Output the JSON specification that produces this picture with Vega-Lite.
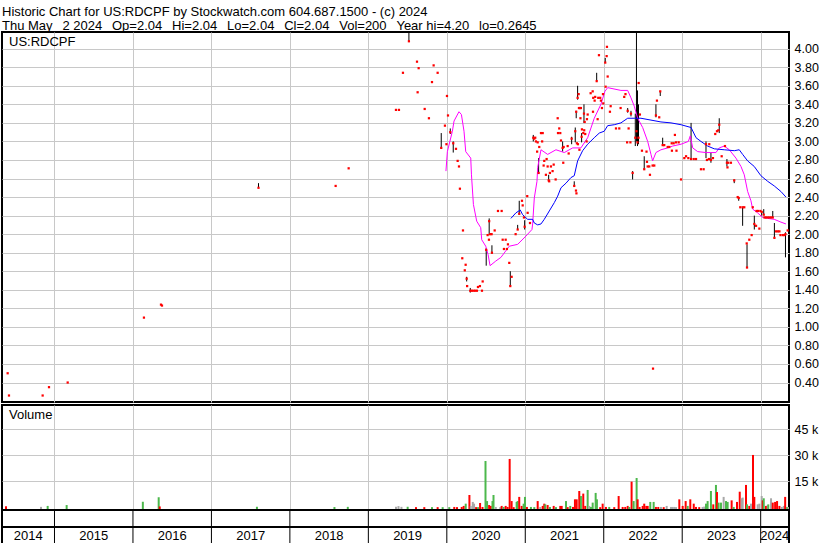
{
"$schema":"https://vega.github.io/schema/vega-lite/v6.json",
"background":"white",
"padding":{"left":1,"top":6,"right":0,"bottom":0},
"spacing":3,
"bounds":"flush",
"title":{"text":["Historic Chart for US:RDCPF by Stockwatch.com 604.687.1500 - (c) 2024","Thu May\u00a0\u00a0\u20092 2024\u00a0\u00a0\u2009Op=2.04\u00a0\u00a0\u2009Hi=2.04\u00a0\u00a0\u2009Lo=2.04\u00a0\u00a0\u2009Cl=2.04\u00a0\u00a0\u2009Vol=200\u00a0\u00a0\u2009Year hi=4.20\u00a0\u00a0\u2009lo=0.2645"],"anchor":"start","font":"Liberation Sans","fontSize":13,"fontWeight":"normal","color":"#000","lineHeight":14,"offset":-2,"dx":1},
"config":{
 "view":{"stroke":"#000","strokeWidth":2},
 "axis":{"labelFont":"Liberation Sans","labelFontSize":12.5,"labelColor":"#000","ticks":false,"domain":false,"gridColor":"#c8c8c8","gridWidth":1,"labelPadding":5},
 "title":{"font":"Liberation Sans","fontSize":13,"fontWeight":"normal","color":"#000","anchor":"start"}
},
"resolve":{"scale":{"color":"independent"}},
"datasets":{
"px":[
{"t":2014.403,"c":0.50},{"t":2014.420,"c":0.26},{"t":2014.849,"c":0.26},{"t":2014.930,"c":0.35},{"t":2015.168,"c":0.40},
{"t":2016.140,"c":1.10},{"t":2016.357,"c":1.24},{"t":2016.370,"c":1.23},
{"t":2017.600,"c":2.50,"h":2.55,"l":2.50},{"t":2018.583,"c":2.52},{"t":2018.749,"c":2.71},
{"t":2019.352,"c":3.34},{"t":2019.390,"c":3.34},{"t":2019.441,"c":3.74},{"t":2019.517,"c":4.08,"h":4.20,"l":4.08},
{"t":2019.620,"c":3.86},{"t":2019.641,"c":3.79},{"t":2019.628,"c":3.53},{"t":2019.718,"c":3.35},{"t":2019.772,"c":3.25},
{"t":2019.811,"c":3.64},{"t":2019.832,"c":3.82},{"t":2019.883,"c":3.74},{"t":2019.929,"c":2.93,"h":3.09,"l":2.93},
{"t":2019.976,"c":3.17},{"t":2020.002,"c":3.49},{"t":2020.015,"c":3.28},{"t":2019.995,"c":2.97},
{"t":2020.044,"c":3.10,"h":3.14,"l":3.08},{"t":2020.082,"c":2.98,"h":3.00,"l":2.88},{"t":2020.117,"c":2.92},
{"t":2020.138,"c":2.79},{"t":2020.155,"c":2.73},{"t":2020.167,"c":2.49},{"t":2020.206,"c":2.04},{"t":2020.197,"c":1.74},
{"t":2020.240,"c":1.67},{"t":2020.229,"c":1.61},{"t":2020.253,"c":1.52,"h":1.54,"l":1.49},{"t":2020.259,"c":1.44},
{"t":2020.299,"c":1.39,"h":1.42,"l":1.37},{"t":2020.320,"c":1.39},{"t":2020.342,"c":1.39},{"t":2020.362,"c":1.39},
{"t":2020.384,"c":1.39},{"t":2020.397,"c":1.43},{"t":2020.422,"c":1.44},{"t":2020.448,"c":1.39},{"t":2020.457,"c":1.49},
{"t":2020.502,"c":1.83,"h":1.85,"l":1.66},{"t":2020.520,"c":1.99},{"t":2020.537,"c":1.94},{"t":2020.540,"c":2.14,"h":2.17,"l":1.99},
{"t":2020.553,"c":2.00},{"t":2020.571,"c":2.00},{"t":2020.575,"c":1.80,"h":1.88,"l":1.79},{"t":2020.610,"c":2.04},
{"t":2020.652,"c":2.25},{"t":2020.699,"c":2.25},{"t":2020.712,"c":1.94},{"t":2020.728,"c":1.84},{"t":2020.750,"c":1.94},
{"t":2020.766,"c":1.84},{"t":2020.779,"c":1.89},{"t":2020.796,"c":1.69},{"t":2020.809,"c":1.44,"h":1.60,"l":1.44},
{"t":2020.826,"c":1.54},{"t":2020.877,"c":2.00},{"t":2020.903,"c":2.05,"h":2.10,"l":2.05},{"t":2020.923,"c":2.22,"h":2.36,"l":2.21},
{"t":2020.958,"c":2.36},{"t":2020.967,"c":2.31},{"t":2020.983,"c":2.18},{"t":2020.992,"c":2.08,"h":2.15,"l":2.05},
{"t":2021.025,"c":2.41},{"t":2021.030,"c":2.23},{"t":2021.060,"c":2.12},
{"t":2021.102,"c":3.04,"h":3.07,"l":3.00},{"t":2021.114,"c":3.03},{"t":2021.127,"c":3.04},{"t":2021.136,"c":3.00},
{"t":2021.158,"c":2.99},{"t":2021.200,"c":3.09},{"t":2021.222,"c":3.09},{"t":2021.178,"c":2.94},{"t":2021.215,"c":3.00},
{"t":2021.151,"c":2.89},{"t":2021.170,"c":2.66,"h":2.82,"l":2.66},{"t":2021.272,"c":2.81},{"t":2021.242,"c":2.79},
{"t":2021.234,"c":2.74},{"t":2021.285,"c":2.73},{"t":2021.327,"c":2.73},{"t":2021.362,"c":2.75},{"t":2021.263,"c":2.64},
{"t":2021.314,"c":2.66},{"t":2021.305,"c":2.57},{"t":2021.348,"c":2.68},{"t":2021.298,"c":2.58,"h":2.64,"l":2.57},
{"t":2021.387,"c":2.59},{"t":2021.484,"c":2.77},{"t":2021.413,"c":3.25},{"t":2021.433,"c":3.14},{"t":2021.446,"c":3.09},
{"t":2021.417,"c":3.09},{"t":2021.455,"c":3.01},{"t":2021.476,"c":2.93,"h":3.00,"l":2.89},{"t":2021.489,"c":2.94},
{"t":2021.540,"c":2.95},{"t":2021.553,"c":2.87},{"t":2021.591,"c":3.03,"h":3.05,"l":2.97},{"t":2021.624,"c":2.52,"h":2.57,"l":2.52},
{"t":2021.646,"c":2.47},{"t":2021.652,"c":2.44},{"t":2021.637,"c":3.11,"h":3.15,"l":2.99},{"t":2021.658,"c":2.98},
{"t":2021.667,"c":3.47,"h":3.60,"l":3.45},{"t":2021.680,"c":3.51},{"t":2021.684,"c":3.36},{"t":2021.696,"c":3.36},
{"t":2021.709,"c":3.36},{"t":2021.649,"c":3.32,"h":3.33,"l":3.25},{"t":2021.703,"c":3.25},{"t":2021.748,"c":3.30,"h":3.40,"l":3.20},
{"t":2021.757,"c":3.21},{"t":2021.722,"c":3.13},{"t":2021.739,"c":3.09},{"t":2021.751,"c":3.12},{"t":2021.718,"c":3.05,"h":3.09,"l":2.99},
{"t":2021.671,"c":2.97},{"t":2021.690,"c":2.91},{"t":2021.764,"c":3.08},{"t":2021.782,"c":3.00},{"t":2021.786,"c":3.24},
{"t":2021.795,"c":3.29},{"t":2021.833,"c":3.52},{"t":2021.859,"c":3.54},{"t":2021.884,"c":3.44},{"t":2021.891,"c":3.48},
{"t":2021.866,"c":3.47},{"t":2021.930,"c":3.47},{"t":2021.955,"c":3.47},{"t":2021.990,"c":3.51},{"t":2021.964,"c":3.44},
{"t":2021.994,"c":3.41},{"t":2021.977,"c":3.36},{"t":2021.922,"c":3.24},{"t":2021.863,"c":3.32},{"t":2021.910,"c":3.65,"h":3.74,"l":3.65},
{"t":2021.939,"c":3.93},{"t":2022.019,"c":3.85,"h":3.90,"l":3.85},{"t":2022.037,"c":3.92},{"t":2022.041,"c":4.02},
{"t":2022.050,"c":3.70},{"t":2022.024,"c":3.59},{"t":2022.088,"c":3.38},{"t":2022.079,"c":3.32},{"t":2022.156,"c":3.14},
{"t":2022.198,"c":3.14},{"t":2022.215,"c":3.36},{"t":2022.261,"c":3.48},{"t":2022.277,"c":3.51},{"t":2022.305,"c":3.33,"h":3.36,"l":3.31},
{"t":2022.347,"c":3.30,"h":3.33,"l":3.27},{"t":2022.298,"c":2.99},{"t":2022.340,"c":2.99},{"t":2022.317,"c":3.14},
{"t":2022.368,"c":2.66,"h":2.68,"l":2.59},{"t":2022.402,"c":3.04,"h":3.30,"l":2.95},{"t":2022.417,"c":3.11,"h":4.20,"l":3.00},
{"t":2022.430,"c":2.99,"h":3.55,"l":2.95},{"t":2022.443,"c":3.04,"h":3.40,"l":2.97},{"t":2022.445,"c":3.63},{"t":2022.461,"c":3.29},
{"t":2022.487,"c":2.90},{"t":2022.516,"c":2.70,"h":2.84,"l":2.70},{"t":2022.560,"c":2.73},{"t":2022.580,"c":2.73},
{"t":2022.623,"c":2.74},{"t":2022.644,"c":2.74},{"t":2022.589,"c":2.64},{"t":2022.545,"c":2.89},{"t":2022.551,"c":2.78},
{"t":2022.628,"c":0.55},{"t":2022.665,"c":3.28,"h":3.40,"l":3.26},{"t":2022.707,"c":3.26},{"t":2022.678,"c":3.44},
{"t":2022.720,"c":3.54,"h":3.54,"l":3.49},{"t":2022.751,"c":2.96,"h":3.04,"l":2.96},{"t":2022.771,"c":2.96},{"t":2022.815,"c":2.94},
{"t":2022.835,"c":2.94},{"t":2022.866,"c":2.98},{"t":2022.891,"c":2.98},{"t":2022.921,"c":2.99},{"t":2022.955,"c":2.99},
{"t":2022.907,"c":3.07},{"t":2022.869,"c":2.90},{"t":2022.927,"c":2.90},{"t":2022.985,"c":2.59},{"t":2023.027,"c":2.82},
{"t":2023.049,"c":2.84},{"t":2023.078,"c":2.82},{"t":2023.113,"c":2.81,"h":3.20,"l":2.80},{"t":2023.147,"c":2.81},
{"t":2023.176,"c":2.81},{"t":2023.239,"c":2.70},{"t":2023.273,"c":2.70},{"t":2023.303,"c":2.97,"h":3.00,"l":2.82},
{"t":2023.345,"c":2.97},{"t":2023.315,"c":2.80},{"t":2023.341,"c":2.81},{"t":2023.366,"c":2.80,"h":2.88,"l":2.77},
{"t":2023.392,"c":2.82},{"t":2023.421,"c":3.08},{"t":2023.443,"c":3.11},{"t":2023.460,"c":3.12},{"t":2023.472,"c":3.18,"h":3.25,"l":3.09},
{"t":2023.503,"c":2.84},{"t":2023.545,"c":2.95},{"t":2023.570,"c":2.77,"h":2.81,"l":2.73},{"t":2023.587,"c":2.77},
{"t":2023.621,"c":2.77},{"t":2023.577,"c":2.72},{"t":2023.663,"c":2.58,"h":2.59,"l":2.55},{"t":2023.707,"c":2.40},
{"t":2023.720,"c":2.39,"h":2.40,"l":2.36},{"t":2023.740,"c":2.29},{"t":2023.770,"c":2.29,"h":2.29,"l":2.09},{"t":2023.791,"c":2.29},
{"t":2023.822,"c":1.90},{"t":2023.855,"c":1.94},{"t":2023.885,"c":1.99},{"t":2023.826,"c":1.64,"h":1.89,"l":1.64},
{"t":2023.899,"c":2.29},{"t":2023.919,"c":2.11,"h":2.20,"l":2.05},{"t":2023.941,"c":2.09},{"t":2023.983,"c":2.06},
{"t":2023.947,"c":2.25},{"t":2023.966,"c":2.25},{"t":2023.996,"c":2.25},{"t":2024.013,"c":2.24,"h":2.25,"l":2.20},
{"t":2024.039,"c":2.21,"h":2.27,"l":2.21},{"t":2024.049,"c":2.18},{"t":2024.068,"c":2.18},{"t":2024.090,"c":2.18},
{"t":2024.111,"c":2.18},{"t":2024.132,"c":2.18},{"t":2024.154,"c":2.18,"h":2.25,"l":2.18},{"t":2024.175,"c":1.96,"h":2.12,"l":1.96},
{"t":2024.196,"c":2.03},{"t":2024.218,"c":2.03},{"t":2024.239,"c":2.03},{"t":2024.252,"c":1.99},{"t":2024.282,"c":1.99},
{"t":2024.303,"c":1.99},{"t":2024.316,"c":2.00,"h":2.02,"l":1.75},{"t":2024.344,"c":2.04}
],
"ma":[
{"t":2019.989,"v":2.68,"s":"short"},{"t":2020.007,"v":2.89,"s":"short"},{"t":2020.071,"v":3.11,"s":"short"},{"t":2020.092,"v":3.22,"s":"short"},
{"t":2020.155,"v":3.32,"s":"short"},{"t":2020.186,"v":3.29,"s":"short"},{"t":2020.219,"v":3.11,"s":"short"},{"t":2020.241,"v":2.89,"s":"short"},
{"t":2020.305,"v":2.82,"s":"short"},{"t":2020.314,"v":2.64,"s":"short"},{"t":2020.339,"v":2.32,"s":"short"},{"t":2020.381,"v":2.14,"s":"short"},
{"t":2020.432,"v":2.07,"s":"short"},{"t":2020.445,"v":1.94,"s":"short"},{"t":2020.496,"v":1.87,"s":"short"},{"t":2020.526,"v":1.78,"s":"short"},
{"t":2020.551,"v":1.66,"s":"short"},{"t":2020.624,"v":1.71,"s":"short"},{"t":2020.690,"v":1.75,"s":"short"},{"t":2020.796,"v":1.87,"s":"short"},
{"t":2020.903,"v":1.89,"s":"short"},{"t":2021.009,"v":1.98,"s":"short"},{"t":2021.085,"v":2.05,"s":"short"},{"t":2021.094,"v":2.11,"s":"short"},
{"t":2021.115,"v":2.39,"s":"short"},{"t":2021.149,"v":2.57,"s":"short"},{"t":2021.158,"v":2.72,"s":"short"},{"t":2021.200,"v":2.91,"s":"short"},
{"t":2021.285,"v":2.86,"s":"short"},{"t":2021.391,"v":2.91,"s":"short"},{"t":2021.497,"v":2.88,"s":"short"},{"t":2021.604,"v":2.93,"s":"short"},
{"t":2021.709,"v":2.93,"s":"short"},{"t":2021.795,"v":3.04,"s":"short"},{"t":2021.879,"v":3.25,"s":"short"},{"t":2021.964,"v":3.40,"s":"short"},
{"t":2022.015,"v":3.54,"s":"short"},{"t":2022.050,"v":3.58,"s":"short"},{"t":2022.219,"v":3.55,"s":"short"},{"t":2022.305,"v":3.55,"s":"short"},
{"t":2022.347,"v":3.47,"s":"short"},{"t":2022.389,"v":3.38,"s":"short"},{"t":2022.432,"v":3.25,"s":"short"},{"t":2022.496,"v":3.15,"s":"short"},
{"t":2022.560,"v":3.00,"s":"short"},{"t":2022.602,"v":2.86,"s":"short"},{"t":2022.623,"v":2.79,"s":"short"},{"t":2022.665,"v":2.88,"s":"short"},
{"t":2022.729,"v":2.91,"s":"short"},{"t":2022.815,"v":2.93,"s":"short"},{"t":2022.878,"v":2.95,"s":"short"},{"t":2022.985,"v":2.97,"s":"short"},
{"t":2023.078,"v":3.00,"s":"short"},{"t":2023.103,"v":3.06,"s":"short"},{"t":2023.134,"v":2.93,"s":"short"},{"t":2023.197,"v":2.89,"s":"short"},
{"t":2023.303,"v":2.88,"s":"short"},{"t":2023.430,"v":2.88,"s":"short"},{"t":2023.472,"v":2.93,"s":"short"},{"t":2023.536,"v":2.95,"s":"short"},
{"t":2023.600,"v":2.91,"s":"short"},{"t":2023.685,"v":2.82,"s":"short"},{"t":2023.749,"v":2.73,"s":"short"},{"t":2023.791,"v":2.64,"s":"short"},
{"t":2023.834,"v":2.46,"s":"short"},{"t":2023.876,"v":2.36,"s":"short"},{"t":2023.898,"v":2.27,"s":"short"},{"t":2023.961,"v":2.23,"s":"short"},
{"t":2024.025,"v":2.18,"s":"short"},{"t":2024.089,"v":2.17,"s":"short"},{"t":2024.173,"v":2.16,"s":"short"},{"t":2024.258,"v":2.13,"s":"short"},
{"t":2024.322,"v":2.11,"s":"short"},
{"t":2020.817,"v":2.17,"s":"long"},{"t":2020.881,"v":2.23,"s":"long"},{"t":2020.936,"v":2.26,"s":"long"},{"t":2020.966,"v":2.21,"s":"long"},
{"t":2021.030,"v":2.16,"s":"long"},{"t":2021.094,"v":2.16,"s":"long"},{"t":2021.115,"v":2.12,"s":"long"},{"t":2021.158,"v":2.10,"s":"long"},
{"t":2021.200,"v":2.11,"s":"long"},{"t":2021.242,"v":2.16,"s":"long"},{"t":2021.306,"v":2.25,"s":"long"},{"t":2021.370,"v":2.34,"s":"long"},
{"t":2021.413,"v":2.41,"s":"long"},{"t":2021.455,"v":2.50,"s":"long"},{"t":2021.519,"v":2.55,"s":"long"},{"t":2021.582,"v":2.61,"s":"long"},
{"t":2021.624,"v":2.63,"s":"long"},{"t":2021.667,"v":2.79,"s":"long"},{"t":2021.731,"v":2.90,"s":"long"},{"t":2021.795,"v":2.97,"s":"long"},
{"t":2021.879,"v":3.04,"s":"long"},{"t":2021.943,"v":3.09,"s":"long"},{"t":2022.006,"v":3.11,"s":"long"},{"t":2022.050,"v":3.17,"s":"long"},
{"t":2022.134,"v":3.18,"s":"long"},{"t":2022.219,"v":3.20,"s":"long"},{"t":2022.305,"v":3.25,"s":"long"},{"t":2022.389,"v":3.25,"s":"long"},
{"t":2022.474,"v":3.25,"s":"long"},{"t":2022.602,"v":3.23,"s":"long"},{"t":2022.729,"v":3.21,"s":"long"},{"t":2022.857,"v":3.20,"s":"long"},
{"t":2022.985,"v":3.18,"s":"long"},{"t":2023.113,"v":3.15,"s":"long"},{"t":2023.176,"v":3.04,"s":"long"},{"t":2023.239,"v":3.00,"s":"long"},
{"t":2023.324,"v":2.95,"s":"long"},{"t":2023.409,"v":2.92,"s":"long"},{"t":2023.536,"v":2.91,"s":"long"},{"t":2023.664,"v":2.90,"s":"long"},
{"t":2023.727,"v":2.91,"s":"long"},{"t":2023.770,"v":2.86,"s":"long"},{"t":2023.834,"v":2.79,"s":"long"},{"t":2023.918,"v":2.73,"s":"long"},
{"t":2024.003,"v":2.63,"s":"long"},{"t":2024.089,"v":2.57,"s":"long"},{"t":2024.173,"v":2.52,"s":"long"},{"t":2024.258,"v":2.46,"s":"long"},
{"t":2024.322,"v":2.40,"s":"long"}
],
"vol":[
{"t":2014.382,"v":600,"d":"down"},{"t":2014.828,"v":250,"d":"flat"},{"t":2014.913,"v":800,"d":"up"},{"t":2015.155,"v":1300,"d":"up"},
{"t":2016.126,"v":3200,"d":"up"},{"t":2016.328,"v":5800,"d":"up"},{"t":2016.341,"v":500,"d":"down"},{"t":2017.580,"v":300,"d":"up"},
{"t":2018.568,"v":150,"d":"up"},{"t":2018.738,"v":250,"d":"up"},{"t":2019.352,"v":300,"d":"flat"},{"t":2019.384,"v":700,"d":"flat"},
{"t":2019.422,"v":250,"d":"flat"},{"t":2019.501,"v":300,"d":"up"},{"t":2019.607,"v":100,"d":"down"},{"t":2019.713,"v":100,"d":"down"},
{"t":2019.811,"v":100,"d":"up"},{"t":2019.883,"v":100,"d":"down"},{"t":2019.947,"v":100,"d":"up"},{"t":2020.031,"v":100,"d":"up"},
{"t":2020.095,"v":200,"d":"down"},{"t":2020.130,"v":100,"d":"down"},{"t":2020.190,"v":200,"d":"down"},{"t":2020.215,"v":800,"d":"down"},
{"t":2020.241,"v":2100,"d":"up"},{"t":2020.288,"v":7100,"d":"down"},{"t":2020.305,"v":800,"d":"flat"},{"t":2020.331,"v":3100,"d":"flat"},
{"t":2020.347,"v":2100,"d":"flat"},{"t":2020.373,"v":100,"d":"down"},{"t":2020.398,"v":100,"d":"up"},{"t":2020.424,"v":2500,"d":"down"},
{"t":2020.455,"v":200,"d":"down"},{"t":2020.493,"v":26700,"d":"up"},{"t":2020.513,"v":3600,"d":"up"},{"t":2020.539,"v":1300,"d":"down"},
{"t":2020.560,"v":800,"d":"down"},{"t":2020.582,"v":3600,"d":"up"},{"t":2020.595,"v":7100,"d":"up"},{"t":2020.624,"v":200,"d":"flat"},
{"t":2020.681,"v":100,"d":"flat"},{"t":2020.699,"v":800,"d":"down"},{"t":2020.724,"v":200,"d":"up"},{"t":2020.750,"v":800,"d":"down"},
{"t":2020.775,"v":200,"d":"down"},{"t":2020.801,"v":27900,"d":"down"},{"t":2020.826,"v":3600,"d":"down"},{"t":2020.852,"v":100,"d":"down"},
{"t":2020.890,"v":3100,"d":"up"},{"t":2020.903,"v":3600,"d":"up"},{"t":2020.923,"v":6000,"d":"down"},{"t":2020.954,"v":800,"d":"down"},
{"t":2020.979,"v":2100,"d":"up"},{"t":2020.996,"v":6000,"d":"up"},{"t":2021.021,"v":200,"d":"down"},{"t":2021.072,"v":200,"d":"up"},
{"t":2021.115,"v":100,"d":"up"},{"t":2021.158,"v":3600,"d":"down"},{"t":2021.191,"v":200,"d":"flat"},{"t":2021.222,"v":800,"d":"down"},
{"t":2021.242,"v":2100,"d":"down"},{"t":2021.255,"v":1700,"d":"up"},{"t":2021.285,"v":1300,"d":"down"},{"t":2021.314,"v":200,"d":"up"},
{"t":2021.362,"v":800,"d":"down"},{"t":2021.391,"v":100,"d":"up"},{"t":2021.446,"v":800,"d":"down"},{"t":2021.464,"v":800,"d":"down"},
{"t":2021.519,"v":3600,"d":"up"},{"t":2021.540,"v":100,"d":"down"},{"t":2021.573,"v":800,"d":"up"},{"t":2021.608,"v":200,"d":"down"},
{"t":2021.633,"v":4600,"d":"down"},{"t":2021.655,"v":4600,"d":"down"},{"t":2021.688,"v":9400,"d":"down"},{"t":2021.709,"v":6500,"d":"up"},
{"t":2021.739,"v":7900,"d":"down"},{"t":2021.764,"v":800,"d":"down"},{"t":2021.795,"v":10000,"d":"up"},{"t":2021.815,"v":800,"d":"flat"},
{"t":2021.837,"v":200,"d":"up"},{"t":2021.859,"v":2700,"d":"up"},{"t":2021.897,"v":8300,"d":"up"},{"t":2021.913,"v":4600,"d":"up"},
{"t":2021.955,"v":100,"d":"down"},{"t":2021.986,"v":2100,"d":"down"},{"t":2022.028,"v":200,"d":"down"},{"t":2022.070,"v":200,"d":"up"},
{"t":2022.134,"v":100,"d":"down"},{"t":2022.190,"v":6500,"d":"down"},{"t":2022.241,"v":200,"d":"down"},{"t":2022.274,"v":200,"d":"down"},
{"t":2022.305,"v":800,"d":"down"},{"t":2022.325,"v":200,"d":"up"},{"t":2022.355,"v":14800,"d":"down"},{"t":2022.381,"v":3600,"d":"up"},
{"t":2022.419,"v":16900,"d":"up"},{"t":2022.432,"v":4600,"d":"down"},{"t":2022.457,"v":200,"d":"down"},{"t":2022.496,"v":800,"d":"down"},
{"t":2022.516,"v":2100,"d":"down"},{"t":2022.542,"v":800,"d":"down"},{"t":2022.560,"v":800,"d":"down"},{"t":2022.593,"v":3100,"d":"up"},
{"t":2022.636,"v":3100,"d":"up"},{"t":2022.665,"v":200,"d":"down"},{"t":2022.695,"v":200,"d":"down"},{"t":2022.729,"v":200,"d":"flat"},
{"t":2022.764,"v":100,"d":"down"},{"t":2022.802,"v":800,"d":"flat"},{"t":2022.857,"v":200,"d":"flat"},{"t":2022.878,"v":200,"d":"flat"},
{"t":2022.899,"v":200,"d":"flat"},{"t":2022.921,"v":100,"d":"flat"},{"t":2022.963,"v":4600,"d":"down"},{"t":2023.006,"v":800,"d":"down"},
{"t":2023.044,"v":3600,"d":"down"},{"t":2023.070,"v":800,"d":"up"},{"t":2023.103,"v":4600,"d":"down"},{"t":2023.147,"v":2100,"d":"down"},
{"t":2023.176,"v":200,"d":"down"},{"t":2023.217,"v":100,"d":"down"},{"t":2023.260,"v":200,"d":"flat"},{"t":2023.281,"v":400,"d":"flat"},
{"t":2023.303,"v":2100,"d":"up"},{"t":2023.324,"v":3600,"d":"up"},{"t":2023.366,"v":9400,"d":"up"},{"t":2023.396,"v":1700,"d":"down"},
{"t":2023.430,"v":12900,"d":"up"},{"t":2023.443,"v":8800,"d":"down"},{"t":2023.464,"v":2700,"d":"up"},{"t":2023.494,"v":2700,"d":"up"},
{"t":2023.528,"v":6000,"d":"flat"},{"t":2023.558,"v":3600,"d":"up"},{"t":2023.579,"v":3100,"d":"up"},{"t":2023.630,"v":4000,"d":"down"},
{"t":2023.656,"v":200,"d":"up"},{"t":2023.698,"v":3100,"d":"down"},{"t":2023.733,"v":9000,"d":"down"},{"t":2023.758,"v":5200,"d":"flat"},
{"t":2023.771,"v":5600,"d":"flat"},{"t":2023.813,"v":12900,"d":"down"},{"t":2023.826,"v":1700,"d":"up"},{"t":2023.855,"v":800,"d":"down"},
{"t":2023.877,"v":2100,"d":"flat"},{"t":2023.902,"v":30200,"d":"down"},{"t":2023.919,"v":6000,"d":"down"},{"t":2023.962,"v":1700,"d":"flat"},
{"t":2023.983,"v":2100,"d":"flat"},{"t":2024.013,"v":6500,"d":"flat"},{"t":2024.026,"v":4000,"d":"down"},{"t":2024.039,"v":5200,"d":"up"},
{"t":2024.068,"v":800,"d":"down"},{"t":2024.090,"v":1200,"d":"flat"},{"t":2024.097,"v":1700,"d":"up"},{"t":2024.132,"v":5200,"d":"flat"},
{"t":2024.154,"v":2700,"d":"down"},{"t":2024.184,"v":3100,"d":"down"},{"t":2024.209,"v":3600,"d":"down"},{"t":2024.239,"v":800,"d":"down"},
{"t":2024.269,"v":200,"d":"flat"},{"t":2024.295,"v":800,"d":"flat"},{"t":2024.312,"v":6000,"d":"down"},{"t":2024.337,"v":200,"d":"up"},
{"t":2024.356,"v":200,"d":"flat"}
],
"yb":[{"t":2015},{"t":2016},{"t":2017},{"t":2018},{"t":2019},{"t":2020},{"t":2021},{"t":2022},{"t":2023},{"t":2024}],
"yl":[{"t":2014.666,"year":"2014"},{"t":2015.5,"year":"2015"},{"t":2016.5,"year":"2016"},{"t":2017.5,"year":"2017"},{"t":2018.5,"year":"2018"},{"t":2019.5,"year":"2019"},{"t":2020.5,"year":"2020"},{"t":2021.5,"year":"2021"},{"t":2022.5,"year":"2022"},{"t":2023.5,"year":"2023"},{"t":2024.18,"year":"2024"}]
},
"vconcat":[
{
 "width":787,"height":370,
 "title":{"text":"US:RDCPF","offset":-17,"dx":7},
 "encoding":{"x":{"field":"t","type":"quantitative","scale":{"domain":[2014.331,2024.361],"nice":false,"zero":false},"axis":{"values":[2015,2016,2017,2018,2019,2020,2021,2022,2023,2024],"labels":false,"grid":true,"title":null}}},
 "layer":[
  {"data":{"name":"px"},"transform":[{"filter":"isValid(datum.h)"}],"mark":{"type":"rule","color":"#000","strokeWidth":1,"clip":true},
   "encoding":{"y":{"field":"l","type":"quantitative","scale":{"domain":[0.19,4.18],"nice":false,"zero":false},"axis":{"orient":"right","values":[0.4,0.6,0.8,1,1.2,1.4,1.6,1.8,2,2.2,2.4,2.6,2.8,3,3.2,3.4,3.6,3.8,4],"format":".2f","grid":true,"title":null}},"y2":{"field":"h"}}},
  {"data":{"name":"ma"},"transform":[{"filter":"datum.s == 'short'"}],"mark":{"type":"line","strokeWidth":1,"color":"#ff00ff","clip":true},
   "encoding":{"y":{"field":"v","type":"quantitative","axis":{"orient":"right","values":[0.4,0.6,0.8,1,1.2,1.4,1.6,1.8,2,2.2,2.4,2.6,2.8,3,3.2,3.4,3.6,3.8,4],"format":".2f","grid":true,"title":null}}}},
  {"data":{"name":"ma"},"transform":[{"filter":"datum.s == 'long'"}],"mark":{"type":"line","strokeWidth":1,"color":"#0000ff","clip":true},
   "encoding":{"y":{"field":"v","type":"quantitative","axis":{"orient":"right","values":[0.4,0.6,0.8,1,1.2,1.4,1.6,1.8,2,2.2,2.4,2.6,2.8,3,3.2,3.4,3.6,3.8,4],"format":".2f","grid":true,"title":null}}}},
  {"data":{"name":"px"},"mark":{"type":"square","filled":true,"size":5,"color":"#ff0000","opacity":1,"clip":true},
   "encoding":{"y":{"field":"c","type":"quantitative","axis":{"orient":"right","values":[0.4,0.6,0.8,1,1.2,1.4,1.6,1.8,2,2.2,2.4,2.6,2.8,3,3.2,3.4,3.6,3.8,4],"format":".2f","grid":true,"title":null}}}}
 ]
},
{
 "spacing":0,
 "bounds":"flush",
 "vconcat":[
  {
   "width":787,"height":105,
   "title":{"text":"Volume","offset":-17,"dx":7},
   "data":{"name":"vol"},
   "mark":{"type":"rule","strokeWidth":2,"clip":true},
   "encoding":{
    "x":{"field":"t","type":"quantitative","scale":{"domain":[2014.331,2024.361],"nice":false,"zero":false},"axis":{"values":[2015,2016,2017,2018,2019,2020,2021,2022,2023,2024],"labels":false,"grid":true,"title":null}},
    "y":{"field":"v","type":"quantitative","scale":{"domain":[-1558,59020],"nice":false,"zero":false},"axis":{"orient":"right","values":[15000,30000,45000],"labelExpr":"(datum.value/1000) + ' k'","grid":true,"title":null}},
    "y2":{"datum":-1558},
    "color":{"field":"d","type":"nominal","scale":{"domain":["up","down","flat"],"range":["#4cb84c","#ff0000","#a8a8a8"]},"legend":null}
   }
  },
  {
   "width":787,"height":17,
   "data":{"name":"yb"},
   "mark":{"type":"rule","color":"#000","strokeWidth":1},
   "encoding":{"x":{"field":"t","type":"quantitative","scale":{"domain":[2014.331,2024.361],"nice":false,"zero":false},"axis":null}}
  },
  {
   "width":787,"height":17,
   "layer":[
    {"data":{"name":"yb"},"mark":{"type":"rule","color":"#000","strokeWidth":1},
     "encoding":{"x":{"field":"t","type":"quantitative","scale":{"domain":[2014.331,2024.361],"nice":false,"zero":false},"axis":null}}},
    {"data":{"name":"yl"},"mark":{"type":"text","font":"Liberation Sans","fontSize":13,"color":"#000","baseline":"middle","align":"center"},
     "encoding":{"x":{"field":"t","type":"quantitative"},"text":{"field":"year"}}}
   ]
  }
 ]
}
]
}
